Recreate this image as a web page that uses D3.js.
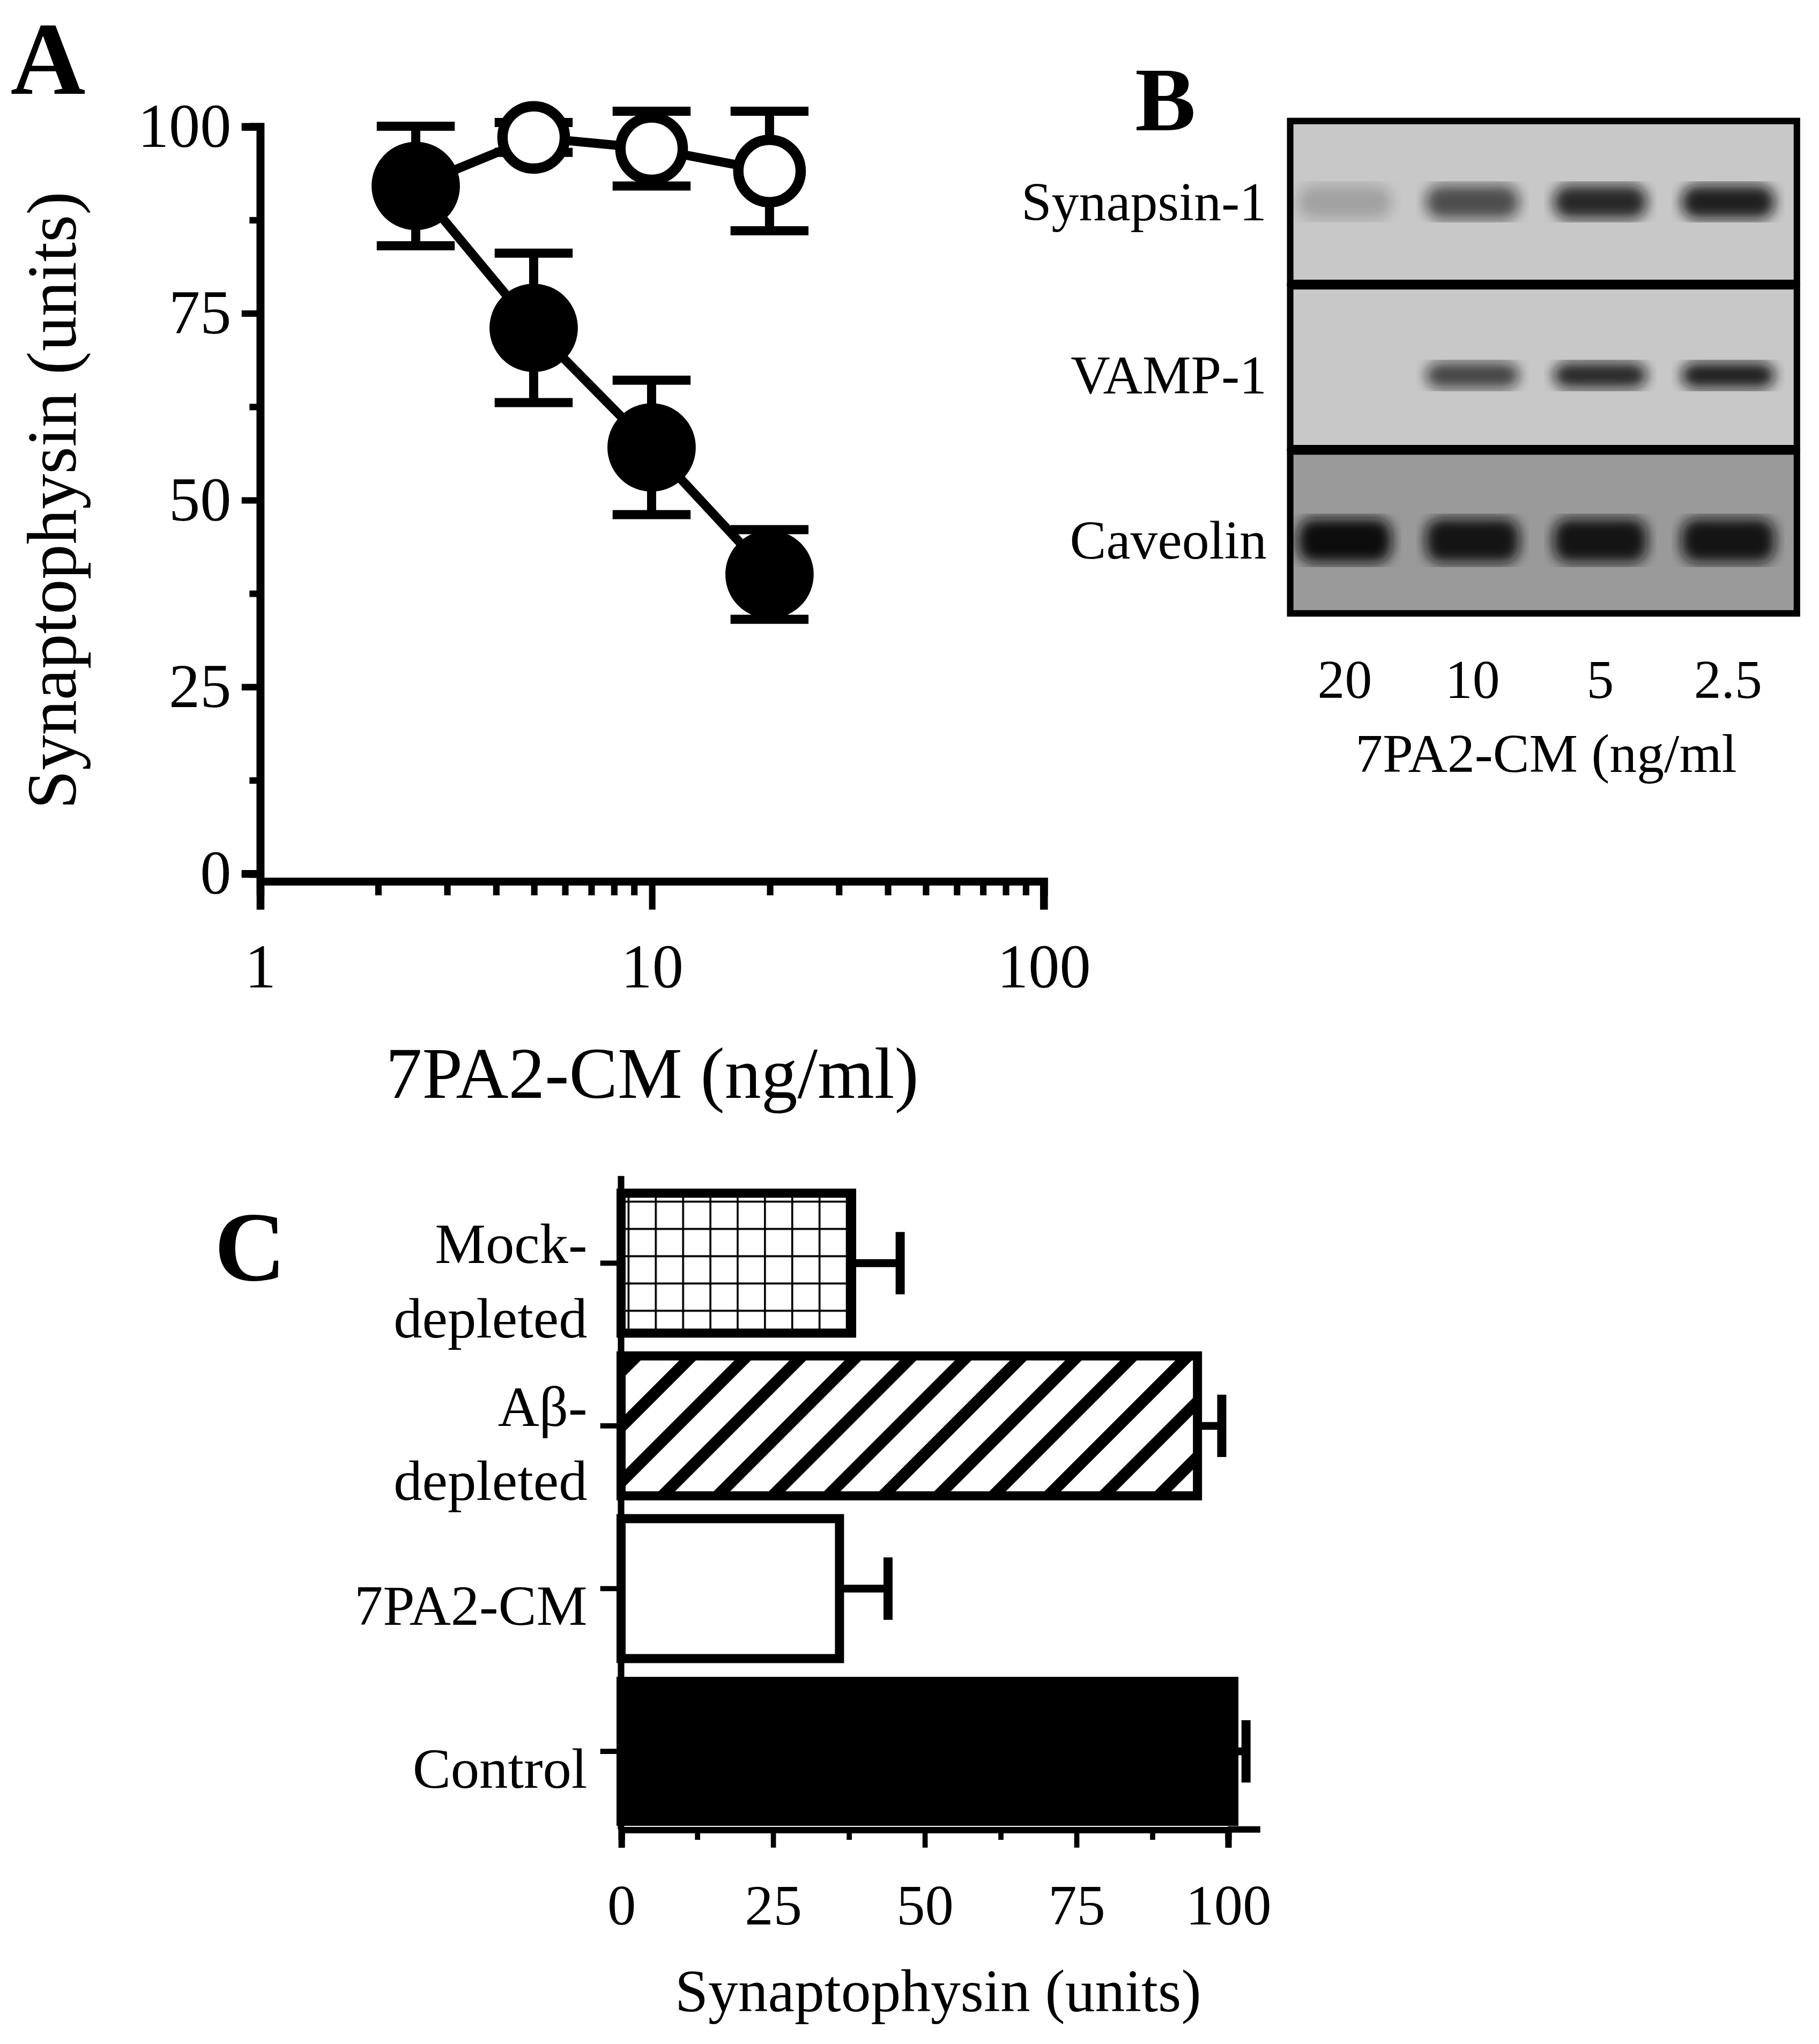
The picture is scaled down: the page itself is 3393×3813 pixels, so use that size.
<!DOCTYPE html>
<html><head><meta charset="utf-8">
<script src="https://cdn.jsdelivr.net/npm/d3@7"></script>
<style>body{margin:0;background:#fff}text{font-family:"Liberation Serif","Times New Roman",serif;fill:#000}</style>
</head><body>
<svg id="fig"></svg>
<script>
// Panel A data
const concs = [2.5, 5, 10, 20];
const cmMean = [92, 73, 57, 40];
const cmErr = [8, 10, 9, 6];
const depMean = [92, 98.5, 97, 94];
const depErr = [0, 2, 5, 8];
const yTicksA = [0, 25, 50, 75, 100];
const xTicksA = [1, 10, 100];
// Panel B data
const blotLanes = ["20", "10", "5", "2.5"];
const blotRows = ["Synapsin-1", "VAMP-1", "Caveolin"];
const blotIntensity = [[0.2, 0.65, 0.85, 0.9], [0, 0.7, 0.85, 0.9], [1, 0.95, 0.95, 0.95]];
// Panel C data
const groups = ["Mock-\ndepleted", "Aβ-\ndepleted", "7PA2-CM", "Control"];
const groupMean = [38, 95, 36, 101];
const groupErr = [8, 4, 8, 2];
const groupFill = ["grid", "hatch", "none", "solid"];
const xTicksC = [0, 25, 50, 75, 100];

const svg = d3.select("#fig").attr("width", 3393).attr("height", 3813).attr("viewBox", "0 0 1400 1573");
const defs = svg.append("defs");
const grid = defs.append("pattern").attr("id", "grid").attr("patternUnits", "userSpaceOnUse").attr("width", 21).attr("height", 21);
grid.append("rect").attr("width", 21).attr("height", 21).attr("fill", "#fff");
grid.append("path").attr("d", "M0,0H21M0,0V21").attr("stroke", "#000").attr("stroke-width", 3);
const hatch = defs.append("pattern").attr("id", "hatch").attr("patternUnits", "userSpaceOnUse").attr("width", 30).attr("height", 30).attr("patternTransform", "rotate(45)");
hatch.append("rect").attr("width", 30).attr("height", 30).attr("fill", "#fff");
hatch.append("rect").attr("width", 9).attr("height", 30).attr("fill", "#000");
defs.append("filter").attr("id", "blur").append("feGaussianBlur").attr("stdDeviation", 5);

// ---------- Panel A ----------
const x = d3.scaleLog().domain([1, 100]).range([200, 803]);
const y = d3.scaleLinear().domain([0, 100]).range([672, 97]);
const gA = svg.append("g");
gA.append("text").attr("x", 8).attr("y", 72).attr("font-size", 80).attr("font-weight", "bold").text("A");
gA.append("g").attr("transform", "translate(200,0)")
  .call(d3.axisLeft(y).tickValues(yTicksA).tickSize(14).tickPadding(8));
gA.append("g").attr("transform", "translate(200,0)")
  .call(d3.axisLeft(y).tickValues([12.5, 37.5, 62.5, 87.5]).tickSize(8).tickFormat(""));
gA.append("g").attr("transform", "translate(0,678)")
  .call(d3.axisBottom(x).tickValues(xTicksA).tickFormat(d3.format("d")).tickSize(22).tickPadding(26));
gA.append("g").attr("transform", "translate(0,678)")
  .call(d3.axisBottom(x).tickValues(d3.range(2, 10).concat(d3.range(20, 100, 10))).tickSize(11).tickFormat(""));
gA.selectAll(".domain").attr("stroke-width", 6);
gA.selectAll(".tick line").attr("stroke-width", 5);
gA.selectAll(".tick text").attr("font-size", 48);
gA.append("text").attr("transform", "translate(58,385) rotate(-90)").attr("text-anchor", "middle").attr("font-size", 54).text("Synaptophysin (units)");
gA.append("text").attr("x", 502).attr("y", 845).attr("text-anchor", "middle").attr("font-size", 56).text("7PA2-CM (ng/ml)");
const line = d3.line().x(d => x(d[0])).y(d => y(d[1]));
function series(mean, err, filled) {
  const pts = concs.map((c, i) => [c, mean[i], err[i]]);
  gA.append("path").datum(pts).attr("d", line).attr("fill", "none").attr("stroke", "#000").attr("stroke-width", 7);
  const e = gA.append("g").selectAll("g").data(pts.filter(d => d[2] > 0)).join("g").attr("stroke", "#000").attr("stroke-width", 7);
  e.append("line").attr("x1", d => x(d[0])).attr("x2", d => x(d[0])).attr("y1", d => y(d[1] - d[2])).attr("y2", d => y(d[1] + d[2]));
  e.selectAll("line.cap").data(d => [[d[0], d[1] - d[2]], [d[0], d[1] + d[2]]]).join("line").attr("class", "cap")
    .attr("x1", d => x(d[0]) - 30).attr("x2", d => x(d[0]) + 30).attr("y1", d => y(d[1])).attr("y2", d => y(d[1]));
  gA.append("g").selectAll("circle").data(filled ? pts : pts.slice(1)).join("circle")
    .attr("cx", d => x(d[0])).attr("cy", d => y(d[1])).attr("r", filled ? 30 : 24)
    .attr("fill", filled ? "#000" : "#fff").attr("stroke", "#000").attr("stroke-width", 8);
}
series(depMean, depErr, false);
series(cmMean, cmErr, true);

// ---------- Panel B ----------
const gB = svg.append("g");
gB.append("text").attr("x", 897).attr("y", 100).attr("text-anchor", "middle").attr("font-size", 70).attr("font-weight", "bold").text("B");
const lx = d3.scalePoint().domain(blotLanes).range([1035, 1330]);
const rowY = d3.scaleBand().domain(blotRows).range([93, 472]).paddingInner(0.02);
const bandY = {"Synapsin-1": 0.5, "VAMP-1": 0.55, "Caveolin": 0.55};
const bandH = {"Synapsin-1": 26, "VAMP-1": 20, "Caveolin": 34};
blotRows.forEach((r, ri) => {
  gB.append("rect").attr("x", 993).attr("y", rowY(r)).attr("width", 390).attr("height", rowY.bandwidth())
    .attr("fill", ri === 2 ? "#9a9a9a" : "#c8c8c8").attr("stroke", "#000").attr("stroke-width", 5);
  gB.append("g").selectAll("rect").data(blotIntensity[ri]).join("rect")
    .attr("x", (d, i) => lx(blotLanes[i]) - 36).attr("width", 72)
    .attr("y", rowY(r) + rowY.bandwidth() * bandY[r] - bandH[r] / 2).attr("height", bandH[r]).attr("rx", 12)
    .attr("fill", "#111").attr("opacity", d => d).attr("filter", "url(#blur)");
  gB.append("text").attr("x", 975).attr("y", rowY(r) + rowY.bandwidth() * bandY[r] + 14).attr("text-anchor", "end").attr("font-size", 42).text(r);
});
gB.selectAll("text.lane").data(blotLanes).join("text").attr("class", "lane").attr("x", d => lx(d)).attr("y", 537)
  .attr("text-anchor", "middle").attr("font-size", 42).text(d => d);
gB.append("text").attr("x", 1190).attr("y", 594).attr("text-anchor", "middle").attr("font-size", 42).text("7PA2-CM (ng/ml");

// ---------- Panel C ----------
const gC = svg.append("g");
gC.append("text").attr("x", 165).attr("y", 985).attr("font-size", 76).attr("font-weight", "bold").text("C");
const xc = d3.scaleLinear().domain([0, 100]).range([478, 945]);
const yc = d3.scaleBand().domain(groups).range([912, 1408]).paddingInner(0.14).paddingOuter(0.05);
gC.append("g").attr("transform", "translate(0,1408)")
  .call(d3.axisBottom(xc).tickValues(xTicksC).tickSize(14).tickPadding(28));
gC.append("g").attr("transform", "translate(0,1408)")
  .call(d3.axisBottom(xc).tickValues([12.5, 37.5, 62.5, 87.5]).tickSize(8).tickFormat(""));
gC.append("line").attr("x1", xc(100)).attr("x2", 970).attr("y1", 1408).attr("y2", 1408).attr("stroke", "#000").attr("stroke-width", 5);
gC.append("g").attr("transform", "translate(478,0)").call(d3.axisLeft(yc).tickSize(16).tickFormat(""))
  .select(".domain").attr("d", "M0,905V1408");
gC.selectAll(".domain").attr("stroke-width", 5);
gC.selectAll(".tick line").attr("stroke-width", 4);
gC.selectAll(".tick text").attr("font-size", 44);
groups.forEach((g, i) => {
  const bx = yc(g), bh = yc.bandwidth(), cy = bx + bh / 2;
  gC.append("line").attr("x1", xc(groupMean[i])).attr("x2", xc(groupMean[i] + groupErr[i])).attr("y1", cy).attr("y2", cy).attr("stroke", "#000").attr("stroke-width", 6);
  gC.append("line").attr("x1", xc(groupMean[i] + groupErr[i])).attr("x2", xc(groupMean[i] + groupErr[i])).attr("y1", cy - 24).attr("y2", cy + 24).attr("stroke", "#000").attr("stroke-width", 7);
  const fill = groupFill[i] === "grid" ? "url(#grid)" : groupFill[i] === "hatch" ? "url(#hatch)" : groupFill[i] === "solid" ? "#000" : "#fff";
  gC.append("rect").attr("x", xc(0)).attr("y", bx).attr("width", xc(groupMean[i]) - xc(0)).attr("height", bh)
    .attr("fill", fill).attr("stroke", "#000").attr("stroke-width", 7);
  const lines = g.split("\n");
  gC.append("text").attr("x", 452).attr("y", cy + 28 - (lines.length - 1) * 28).attr("text-anchor", "end").attr("font-size", 44)
    .selectAll("tspan").data(lines).join("tspan").attr("x", 452).attr("dy", (d, k) => k ? 57 : 0).text(d => d);
});
gC.append("text").attr("x", 722).attr("y", 1548).attr("text-anchor", "middle").attr("font-size", 46).text("Synaptophysin (units)");
</script>
</body></html>
